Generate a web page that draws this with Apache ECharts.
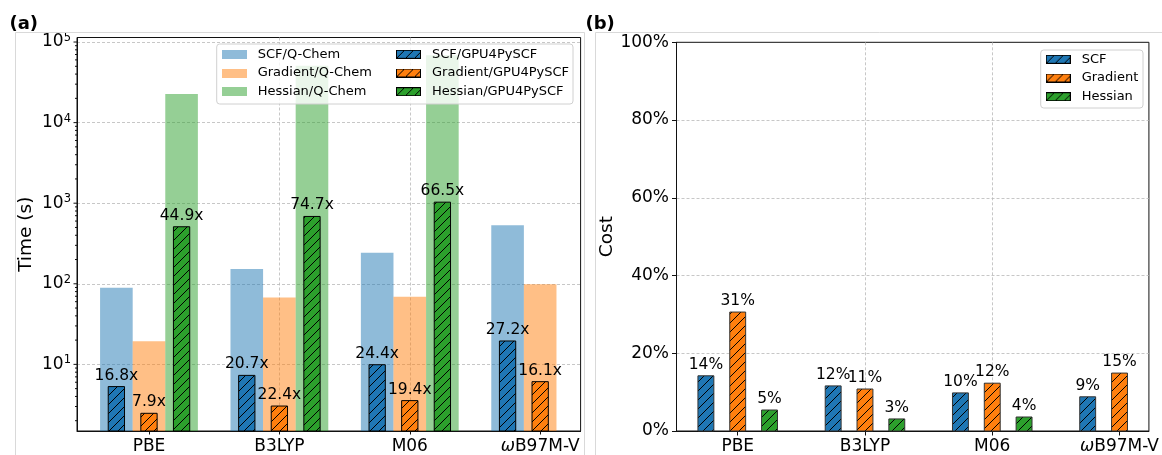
<!DOCTYPE html>
<html>
<head>
<meta charset="utf-8">
<script src="https://cdn.jsdelivr.net/npm/echarts@6/dist/echarts.min.js"></script>
<style>
html,body{margin:0;padding:0;background:#fff;}
#c{width:1162px;height:455px;}
</style>
</head>
<body>
<div id="c"></div>
<script>
// ---------------- data ----------------
const categories = ['PBE', 'B3LYP', 'M06', 'ωB97M-V'];

// Panel (a): wall time in seconds
const scfQChem  = [89, 153, 242, 532];
const gradQChem = [19.4, 67.8, 69, 99];
const hessQChem = [22600, 50700, 68700, null];
const scfGPU    = [5.3, 7.3, 9.9, 19.5];
const gradGPU   = [2.47, 3.04, 3.55, 6.1];
const hessGPU   = [510, 685, 1030, null];
const scfSpeedup  = [16.8, 20.7, 24.4, 27.2];
const gradSpeedup = [7.9, 22.4, 19.4, 16.1];
const hessSpeedup = [44.9, 74.7, 66.5, null];

// Panel (b): cost share (%)
const scfCost  = [14.2, 11.6, 9.8, 8.8];
const gradCost = [30.6, 10.8, 12.3, 14.9];
const hessCost = [5.4, 3.1, 3.6, null];

// axis ticks
const timeMajorTicks = [10, 100, 1000, 10000, 100000];
const timeMinorMantissas = [2, 3, 4, 5, 6, 7, 8, 9];
const timeDecades = [1, 10, 100, 1000, 10000];
const costTicks = [0, 20, 40, 60, 80, 100];

// ---------------- layout / style ----------------
const FONT = '"DejaVu Sans", sans-serif';
const TICK_FS = 17;
const COL = { blue: '#1f77b4', orange: '#ff7f0e', green: '#2ca02c' };
const xLimA = [-0.552, 3.31];
const xLimB = [-0.481, 3.231];
const yLimA = [1.49, 113800];
const offsets = { scf: -0.25, grad: 0, hess: 0.25 };
const GRID_A = { left: 77, top: 37.5, width: 503.6, height: 395 };
const GRID_B = { left: 676.5, top: 42.3, width: 473.5, height: 390 };
const gridLine = { color: '#b9b9b9', width: 0.8, type: [3, 2] };
const spine = '#111';

function hexA(hex, a) {
  const n = parseInt(hex.slice(1), 16);
  return 'rgba(' + (n >> 16) + ',' + ((n >> 8) & 255) + ',' + (n & 255) + ',' + a + ')';
}
function hatchCanvas(color, size) {
  const c = document.createElement('canvas');
  c.width = size; c.height = size;
  const ctx = c.getContext('2d');
  ctx.fillStyle = color; ctx.fillRect(0, 0, size, size);
  ctx.strokeStyle = '#000'; ctx.lineWidth = 1;
  ctx.beginPath();
  ctx.moveTo(-1, size + 1); ctx.lineTo(size + 1, -1);
  ctx.moveTo(-1, 1); ctx.lineTo(1, -1);
  ctx.moveTo(size - 1, size + 1); ctx.lineTo(size + 1, size - 1);
  ctx.stroke();
  return c;
}
const HATCH = 9;
const hatch = {
  blue: { image: hatchCanvas(COL.blue, HATCH), repeat: 'repeat' },
  orange: { image: hatchCanvas(COL.orange, HATCH), repeat: 'repeat' },
  green: { image: hatchCanvas(COL.green, HATCH), repeat: 'repeat' }
};
function iconURL(color, hatched) {
  const w = 25, h = 9;
  const c = document.createElement('canvas');
  c.width = w; c.height = h;
  const ctx = c.getContext('2d');
  if (hatched) {
    ctx.fillStyle = ctx.createPattern(hatchCanvas(color, HATCH), 'repeat');
    ctx.fillRect(0, 0, w, h);
    ctx.strokeStyle = '#000'; ctx.lineWidth = 1;
    ctx.strokeRect(0.5, 0.5, w - 1, h - 1);
  } else {
    ctx.fillStyle = hexA(color, 0.5);
    ctx.fillRect(0, 0, w, h);
  }
  return 'image://' + c.toDataURL();
}

function toData(arr) {
  const out = [];
  arr.forEach((v, i) => { if (v != null) out.push([i, v]); });
  return out;
}

function barSeries(name, gridIdx, arr, offset, width, fill, stroke, labelFn) {
  return {
    type: 'custom', name: name, xAxisIndex: gridIdx, yAxisIndex: gridIdx,
    encode: { x: 0, y: 1 }, data: toData(arr), z: stroke ? 3 : 2, silent: true,
    renderItem: function (params, api) {
      const i = api.value(0), v = api.value(1);
      const x = i + offset;
      const p0 = api.coord([x - width / 2, v]);
      const p1 = api.coord([x + width / 2, v]);
      const cs = params.coordSys;
      const base = cs.y + cs.height;
      const children = [{
        type: 'rect',
        shape: { x: p0[0], y: p0[1], width: p1[0] - p0[0], height: base - p0[1] },
        style: { fill: fill, stroke: stroke || null, lineWidth: stroke ? 1 : 0 }
      }];
      if (labelFn) {
        const t = labelFn(i);
        if (t) children.push({
          type: 'text', x: (p0[0] + p1[0]) / 2, y: p0[1] - 3,
          style: { text: t, fill: '#000', font: '15.5px ' + FONT, align: 'center', verticalAlign: 'bottom' }
        });
      }
      return { type: 'group', children: children };
    }
  };
}

// tick marks of the log axis (major + minor)
const timeTickData = [];
timeMajorTicks.forEach(v => timeTickData.push([xLimA[0], v, 3.5]));
timeDecades.forEach(d => timeMinorMantissas.forEach(m => {
  const v = d * m;
  if (v >= yLimA[0] && v <= yLimA[1]) timeTickData.push([xLimA[0], v, 2]);
}));

const catFormatter = function (v) {
  const i = Math.round(v);
  if (Math.abs(v - i) > 1e-6 || !categories[i]) return '';
  return categories[i].replace('ω', '{it|ω}');
};
const catRich = { it: { fontStyle: 'italic', fontSize: TICK_FS, fontFamily: FONT, color: '#000' } };

function xAxisCfg(gridIdx, lim, tickLen) {
  return {
    type: 'value', gridIndex: gridIdx, min: lim[0], max: lim[1], splitNumber: 4,
    axisLine: { show: true, onZero: false, lineStyle: { color: spine, width: 1 } },
    axisTick: { show: true, customValues: [0, 1, 2, 3], length: tickLen, lineStyle: { color: spine } },
    axisLabel: { customValues: [0, 1, 2, 3], formatter: catFormatter, rich: catRich, margin: 7,
      fontSize: TICK_FS, fontFamily: FONT, color: '#000' },
    splitLine: { show: true, showMinLine: false, showMaxLine: false, lineStyle: gridLine }
  };
}

const option = {
  animation: false,
  backgroundColor: '#fff',
  grid: [
    Object.assign({ show: true, borderColor: spine, borderWidth: 1, backgroundColor: 'transparent' }, GRID_A),
    Object.assign({ show: true, borderColor: spine, borderWidth: 1, backgroundColor: 'transparent' }, GRID_B)
  ],
  xAxis: [xAxisCfg(0, xLimA, 3.5), xAxisCfg(1, xLimB, 4.5)],
  yAxis: [
    {
      type: 'log', logBase: 10, gridIndex: 0, min: yLimA[0], max: yLimA[1],
      name: 'Time (s)', nameLocation: 'middle', nameGap: 41,
      nameTextStyle: { fontSize: 18.5, fontFamily: FONT, color: '#000' },
      axisLine: { show: true, onZero: false, lineStyle: { color: spine, width: 1 } },
      axisTick: { show: false },
      axisLabel: {
        showMinLabel: false, showMaxLabel: false, margin: 6,
        formatter: function (v) {
          const l = Math.log10(v), n = Math.round(l);
          if (Math.abs(l - n) > 1e-6 || n < 1) return '';
          return '{b|10}{s|' + n + '}';
        },
        rich: {
          b: { fontSize: TICK_FS, fontFamily: FONT, color: '#000', lineHeight: 20 },
          s: { fontSize: 11.5, fontFamily: FONT, color: '#000', lineHeight: 12, verticalAlign: 'top' }
        }
      },
      splitLine: { show: true, showMinLine: false, showMaxLine: false, lineStyle: gridLine }
    },
    {
      type: 'value', gridIndex: 1, min: costTicks[0], max: costTicks[costTicks.length - 1], interval: 20,
      name: 'Cost', nameLocation: 'middle', nameGap: 60,
      nameTextStyle: { fontSize: 18.5, fontFamily: FONT, color: '#000' },
      axisLine: { show: true, onZero: false, lineStyle: { color: spine, width: 1 } },
      axisTick: { show: true, length: 4.5, lineStyle: { color: spine } },
      axisLabel: { formatter: '{value}%', margin: 7.5, fontSize: TICK_FS, fontFamily: FONT, color: '#000' },
      splitLine: { show: true, showMinLine: false, showMaxLine: false, lineStyle: gridLine }
    }
  ],
  legend: [
    {
      data: [
        { name: 'SCF/Q-Chem', icon: iconURL(COL.blue, false) },
        { name: 'Gradient/Q-Chem', icon: iconURL(COL.orange, false) },
        { name: 'Hessian/Q-Chem', icon: iconURL(COL.green, false) }
      ],
      orient: 'vertical', left: 221.7, top: 46.8, padding: 0, itemWidth: 25, itemHeight: 9, itemGap: 3.7,
      selectedMode: false, z: 10,
      textStyle: { fontSize: 13, fontFamily: FONT, color: '#000', lineHeight: 15, padding: [0, 0, 0, 6] }
    },
    {
      data: [
        { name: 'SCF/GPU4PySCF', icon: iconURL(COL.blue, true) },
        { name: 'Gradient/GPU4PySCF', icon: iconURL(COL.orange, true) },
        { name: 'Hessian/GPU4PySCF', icon: iconURL(COL.green, true) }
      ],
      orient: 'vertical', left: 396, top: 46.8, padding: 0, itemWidth: 25, itemHeight: 9, itemGap: 3.7,
      selectedMode: false, z: 10,
      textStyle: { fontSize: 13, fontFamily: FONT, color: '#000', lineHeight: 15, padding: [0, 0, 0, 6] }
    },
    {
      data: [
        { name: 'SCF', icon: iconURL(COL.blue, true) },
        { name: 'Gradient', icon: iconURL(COL.orange, true) },
        { name: 'Hessian', icon: iconURL(COL.green, true) }
      ],
      orient: 'vertical', left: 1045.7, top: 51.8, padding: 0, itemWidth: 25, itemHeight: 9, itemGap: 3.7,
      selectedMode: false, z: 10,
      textStyle: { fontSize: 13, fontFamily: FONT, color: '#000', lineHeight: 15, padding: [0, 0, 0, 6] }
    }
  ],
  graphic: [
    { type: 'rect', z: 1, silent: true, shape: { x: 15.5, y: 32.5, width: 569, height: 500 },
      style: { fill: 'none', stroke: '#d9d9d9', lineWidth: 1 } },
    { type: 'rect', z: 1, silent: true, shape: { x: 595.5, y: 32.5, width: 600, height: 500 },
      style: { fill: 'none', stroke: '#d9d9d9', lineWidth: 1 } },
    { type: 'rect', z: 8, silent: true, shape: { x: 216.7, y: 44, width: 356.3, height: 60, r: 3 },
      style: { fill: 'rgba(255,255,255,0.8)', stroke: '#d0d0d0', lineWidth: 1 } },
    { type: 'rect', z: 8, silent: true, shape: { x: 1040.7, y: 50, width: 102.3, height: 58, r: 3 },
      style: { fill: 'rgba(255,255,255,0.8)', stroke: '#d0d0d0', lineWidth: 1 } },
    { type: 'text', z: 10, x: 9.5, y: 24,
      style: { text: '(a)', font: 'bold 18px ' + FONT, fill: '#000', verticalAlign: 'middle' } },
    { type: 'text', z: 10, x: 585.5, y: 24,
      style: { text: '(b)', font: 'bold 18px ' + FONT, fill: '#000', verticalAlign: 'middle' } }
  ],
  series: [
    barSeries('SCF/Q-Chem', 0, scfQChem, offsets.scf, 0.25, hexA(COL.blue, 0.5)),
    barSeries('Gradient/Q-Chem', 0, gradQChem, offsets.grad, 0.25, hexA(COL.orange, 0.5)),
    barSeries('Hessian/Q-Chem', 0, hessQChem, offsets.hess, 0.25, hexA(COL.green, 0.5)),
    barSeries('SCF/GPU4PySCF', 0, scfGPU, offsets.scf, 0.125, hatch.blue, '#000',
      i => scfSpeedup[i] != null ? scfSpeedup[i].toFixed(1) + 'x' : ''),
    barSeries('Gradient/GPU4PySCF', 0, gradGPU, offsets.grad, 0.125, hatch.orange, '#000',
      i => gradSpeedup[i] != null ? gradSpeedup[i].toFixed(1) + 'x' : ''),
    barSeries('Hessian/GPU4PySCF', 0, hessGPU, offsets.hess, 0.125, hatch.green, '#000',
      i => hessSpeedup[i] != null ? hessSpeedup[i].toFixed(1) + 'x' : ''),
    barSeries('SCF', 1, scfCost, offsets.scf, 0.125, hatch.blue, '#333', i => Math.round(scfCost[i]) + '%'),
    barSeries('Gradient', 1, gradCost, offsets.grad, 0.125, hatch.orange, '#333', i => Math.round(gradCost[i]) + '%'),
    barSeries('Hessian', 1, hessCost, offsets.hess, 0.125, hatch.green, '#333', i => Math.round(hessCost[i]) + '%'),
    {
      type: 'custom', name: 'timeTicks', xAxisIndex: 0, yAxisIndex: 0, encode: { x: 0, y: 1 },
      data: timeTickData, silent: true, z: 4, clip: false,
      renderItem: function (params, api) {
        const p = api.coord([api.value(0), api.value(1)]);
        const len = api.value(2);
        return { type: 'line', shape: { x1: p[0] - len, y1: p[1], x2: p[0], y2: p[1] },
          style: { stroke: spine, lineWidth: 1 } };
      }
    }
  ]
};

const chart = echarts.init(document.getElementById('c'));
chart.setOption(option);
</script>
</body>
</html>
